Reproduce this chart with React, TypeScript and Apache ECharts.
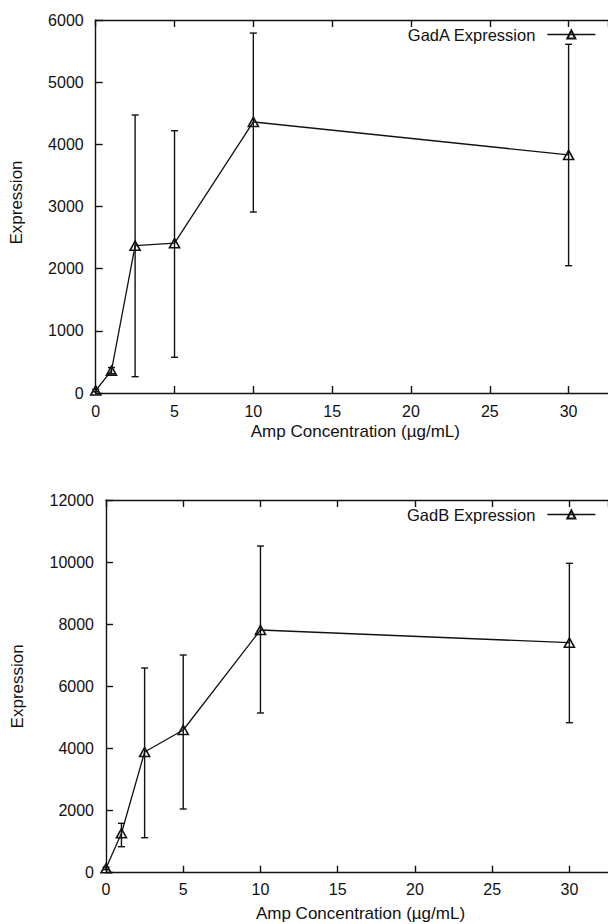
import React, { useEffect, useRef } from "react";
import * as echarts from "echarts";

const concentrations = [0, 1, 2.5, 5, 10, 30];
const gadAMean = [40, 360, 2370, 2410, 4360, 3830];
const gadALow = [20, 310, 262, 574, 2911, 2048];
const gadAHigh = [60, 410, 4472, 4219, 5790, 5609];
const gadBMean = [140, 1270, 3886, 4594, 7814, 7405];
const gadBLow = [100, 837, 1127, 2051, 5142, 4829];
const gadBHigh = [180, 1590, 6590, 7009, 10518, 9961];

const xTitle = "Amp Concentration (\u00b5g/mL)";
const yTitle = "Expression";
const seriesNames = ["GadA Expression", "GadB Expression"];
const yMaxes = [6000, 12000];
const yIntervals = [1000, 2000];

const FONT = "'Liberation Sans', Arial, Helvetica, sans-serif";
const INK = "#111";

export default function App() {
  const ref = useRef<HTMLDivElement>(null);
  useEffect(() => {
    if (!ref.current) return;
    const chart = echarts.init(ref.current, undefined, { renderer: "svg" });

    const pairs = (ys: number[]) => concentrations.map((x, i) => [x, ys[i]]);
    const errData = (lo: number[], hi: number[]) =>
      concentrations.map((x, i) => [x, lo[i], hi[i]]);

    const renderErr = (params: any, api: any) => {
      const x = api.value(0);
      const p1 = api.coord([x, api.value(1)]);
      const p2 = api.coord([x, api.value(2)]);
      const cap = 3.5;
      const style = { stroke: INK, lineWidth: 1.4 };
      return {
        type: "group",
        children: [
          { type: "line", shape: { x1: p1[0], y1: p1[1], x2: p2[0], y2: p2[1] }, style },
          { type: "line", shape: { x1: p1[0] - cap, y1: p1[1], x2: p1[0] + cap, y2: p1[1] }, style },
          { type: "line", shape: { x1: p2[0] - cap, y1: p2[1], x2: p2[0] + cap, y2: p2[1] }, style },
        ],
      };
    };

    const axisLine = { show: true, lineStyle: { color: INK, width: 1.4 } };
    const axisTick = { show: true, inside: true, length: 7, lineStyle: { color: INK, width: 1.4 } };
    const plain = (v: number) => String(v);

    const xBottom = (gridIndex: number, margin: number, gap: number) => ({
      type: "value",
      gridIndex,
      position: "bottom",
      min: 0,
      max: 32.5,
      interval: 5,
      axisLine,
      axisTick,
      splitLine: { show: false },
      axisLabel: {
        show: true,
        margin,
        color: INK,
        fontFamily: FONT,
        fontSize: 16,
        showMaxLabel: false,
        formatter: plain,
      },
      name: xTitle,
      nameLocation: "middle",
      nameGap: gap,
      nameTextStyle: { color: INK, fontFamily: FONT, fontSize: 17, padding: [0, 0, 0, 7] },
    });
    const xTop = (gridIndex: number) => ({
      type: "value",
      gridIndex,
      position: "top",
      min: 0,
      max: 32.5,
      interval: 5,
      axisLine,
      axisTick,
      splitLine: { show: false },
      axisLabel: { show: false },
    });
    const yLeft = (gridIndex: number, gap: number, shift: number) => ({
      type: "value",
      gridIndex,
      position: "left",
      min: 0,
      max: yMaxes[gridIndex],
      interval: yIntervals[gridIndex],
      axisLine,
      axisTick,
      splitLine: { show: false },
      axisLabel: { margin: 12, color: INK, fontFamily: FONT, fontSize: 16, formatter: plain },
      name: yTitle,
      nameLocation: "middle",
      nameGap: gap,
      nameRotate: 90,
      nameTextStyle: { color: INK, fontFamily: FONT, fontSize: 17, padding: [0, 0, 0, shift] },
    });

    const legend = (name: string, top: number) => ({
      data: [name],
      right: 12,
      top,
      padding: 0,
      align: "right",
      itemWidth: 48,
      itemHeight: 10,
      selectedMode: false,
      lineStyle: { width: 1.3, color: INK },
      textStyle: { color: INK, fontFamily: FONT, fontSize: 16.5, lineHeight: 18, padding: [0, 7, 0, 0] },
    });

    const lineSeries = (name: string, idx: number, data: number[][]) => ({
      name,
      type: "line",
      xAxisIndex: idx * 2,
      yAxisIndex: idx,
      data,
      symbol: "triangle",
      symbolSize: [10, 9],
      showAllSymbol: true,
      lineStyle: { color: INK, width: 1.3 },
      itemStyle: { color: "transparent", borderColor: INK, borderWidth: 1.6 },
      clip: false,
      z: 3,
    });

    chart.setOption({
      animation: false,
      backgroundColor: "#fff",
      grid: [
        { left: 95.7, right: 0, top: 20, height: 373 },
        { left: 106, right: 0, top: 500, height: 372.7 },
      ],
      xAxis: [xBottom(0, 10, 30), xTop(0), xBottom(1, 9, 32), xTop(1)],
      yAxis: [yLeft(0, 70.5, 8), yLeft(1, 80.5, 0)],
      legend: [legend(seriesNames[0], 25.5), legend(seriesNames[1], 505.5)],
      series: [
        {
          type: "custom",
          xAxisIndex: 0,
          yAxisIndex: 0,
          renderItem: renderErr,
          data: errData(gadALow, gadAHigh),
          z: 2,
        },
        lineSeries(seriesNames[0], 0, pairs(gadAMean)),
        {
          type: "custom",
          xAxisIndex: 2,
          yAxisIndex: 1,
          renderItem: renderErr,
          data: errData(gadBLow, gadBHigh),
          z: 2,
        },
        lineSeries(seriesNames[1], 1, pairs(gadBMean)),
      ],
    });
    return () => chart.dispose();
  }, []);
  return (
    <div
      ref={ref}
      style={{ position: "absolute", left: 0, top: 0, width: 608, height: 924 }}
    />
  );
}
